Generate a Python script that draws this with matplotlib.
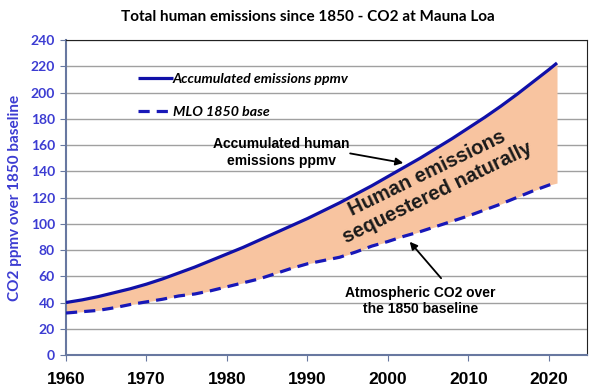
import matplotlib.pyplot as plt

# valores
anios = [1960, 1962, 1964, 1966, 1968, 1970, 1972, 1974, 1976, 1978,
         1980, 1982, 1984, 1986, 1988, 1990, 1992, 1994, 1996, 1998,
         2000, 2002, 2004, 2006, 2008, 2010, 2012, 2014, 2016, 2018,
         2020, 2021]
acumulado = [40, 42, 44.5, 47.5, 50.5, 54, 58, 62.5, 67, 72,
             77, 82, 87.5, 93, 98.5, 104, 110, 116, 122.5, 129,
             136, 143, 150, 157.5, 165, 173, 181, 189.5, 198.5, 208,
             217.5, 222.5]
mlo_base = [32, 33, 34, 36, 38.5, 40.5, 42.5, 45, 46.5, 49,
            52, 55, 58, 62, 66, 69.5, 72, 74.5, 78.5, 83,
            86.5, 90.5, 94, 98, 102, 106, 110.5, 115, 120, 125,
            129.5, 131]
ticks_x = [1960, 1970, 1980, 1990, 2000, 2010, 2020]
ticks_y = list(range(0, 241, 20))

azul = "#1010a8"
azul_txt = "#3c3cd2"
gris_eje = "#6878a0"

fig = plt.figure(figsize=(6, 3.9), dpi=100)
ax = fig.add_axes([0.11, 0.0897, 0.868, 0.8077])

ax.fill_between(anios, mlo_base, acumulado, color="#f8c4a0", lw=0, zorder=1)
ax.plot(anios, acumulado, color=azul, lw=2.3, label="Accumulated emissions ppmv",
        zorder=3, solid_capstyle="butt")
ax.plot(anios, mlo_base, color="#1818b8", lw=2.3, dashes=(3.5, 2.2),
        label="MLO 1850 base", zorder=3)

ax.set_xlim(1960, 2024.7)
ax.set_ylim(0, 240)
ax.set_xticks(ticks_x)
ax.set_yticks(ticks_y)
ax.grid(axis="y", color="#a0a0a0", lw=1, zorder=0)
ax.set_axisbelow(True)

for lab in ax.get_xticklabels():
    lab.set_fontfamily("Liberation Sans")
    lab.set_fontweight("bold")
    lab.set_fontsize(12.5)
for lab in ax.get_yticklabels():
    lab.set_fontfamily("Lato")
    lab.set_fontweight("bold")
    lab.set_fontsize(10)
    lab.set_color(azul_txt)
ax.tick_params(axis="x", length=4, color=gris_eje, pad=8)
ax.tick_params(axis="y", length=4, color=gris_eje, pad=4)

ax.spines["left"].set_color(gris_eje)
ax.spines["bottom"].set_color(gris_eje)
ax.spines["left"].set_linewidth(1.5)
ax.spines["bottom"].set_linewidth(1.5)
ax.spines["top"].set_color("#222222")
ax.spines["right"].set_color("#222222")

ax.set_ylabel("CO2 ppmv over 1850 baseline", fontfamily="Lato", fontweight="bold",
              fontsize=11, color=azul_txt, labelpad=6)
fig.suptitle("Total human emissions since 1850 - CO2 at Mauna Loa", fontfamily="Lato",
             fontweight="bold", fontsize=11, x=0.513, y=0.975)

ax.legend(loc="upper left", bbox_to_anchor=(0.113, 0.935), frameon=False,
          handlelength=2.5, handletextpad=0.0, labelspacing=1.45,
          prop={"family": "Lato", "style": "italic", "weight": "bold", "size": 10.2})

flecha = dict(arrowstyle="-|>", color="black", lw=1.3, shrinkA=0, shrinkB=0,
              mutation_scale=11)

ax.text(1986.8, 154.3, "Accumulated human\nemissions ppmv", ha="center", va="center",
        fontfamily="Liberation Sans", fontweight="bold", fontsize=10, zorder=5)
ax.annotate("", xy=(2001.9, 146.3), xytext=(1995.3, 153.6), arrowprops=flecha, zorder=5)

ax.text(2004, 41, "Atmospheric CO2 over\nthe 1850 baseline", ha="center", va="center",
        fontfamily="Liberation Sans", fontweight="bold", fontsize=10, zorder=5)
ax.annotate("", xy=(2002.7, 86.3), xytext=(2006.6, 58.5), arrowprops=flecha, zorder=5)

ax.text(2005.5, 131, "Human emissions\nsequestered naturally", rotation=26,
        rotation_mode="anchor", ha="center", va="center", multialignment="center",
        fontfamily="Liberation Sans", fontweight="bold", fontsize=14.5,
        color="#1a1a1a", zorder=4)

plt.savefig("out.png", dpi=100)
